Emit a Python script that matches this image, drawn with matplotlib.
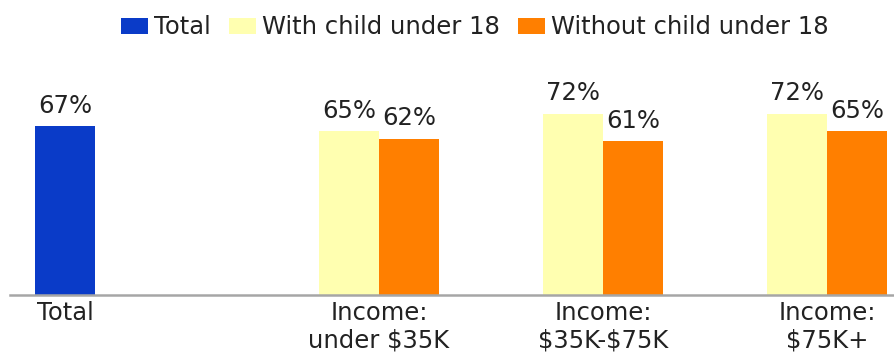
import matplotlib.pyplot as plt
import numpy as np

# data
groups = ['Income:\nunder \\$35K', 'Income:\n\\$35K-\\$75K', 'Income:\n\\$75K+']
total_value = [67]
with_child = [65, 72, 72]
without_child = [62, 61, 65]

plt.rcParams['font.family'] = ['DejaVu Sans Condensed', 'DejaVu Sans']

fig = plt.figure(figsize=(8.94, 3.6), dpi=100)
ax = fig.add_axes([10 / 894, 65 / 360, 884 / 894, 252 / 360])

w = 60 / 224  # bar width in category units
x = np.arange(1, len(groups) + 1)

b0 = ax.bar([0 - w], total_value, w, color='#0a3bc8', label='Total')
b1 = ax.bar(x, with_child, w, color='#ffffb0', label='With child under 18')
b2 = ax.bar(x + w, without_child, w, color='#ff7f00', label='Without child under 18')

# percent labels above bars
for bars in (b0, b1, b2):
    for bar in bars:
        h = bar.get_height()
        ax.annotate(f'{h:.0f}%', xy=(bar.get_x() + bar.get_width() / 2, h),
                    xytext=(0, 6), textcoords='offset points',
                    ha='center', va='bottom', fontsize=17.5, color='#222222')

ax.set_xlim(-0.513, 3.433)
ax.set_ylim(0, 100)

ticks = [0 - w] + list(x + w / 2)
ax.set_xticks(ticks)
ax.set_xticklabels(['Total'] + groups, fontsize=17.5, color='#222222')
ax.tick_params(axis='x', length=0, pad=4)
ax.set_yticks([])

for s in ('top', 'right', 'left'):
    ax.spines[s].set_visible(False)
ax.spines['bottom'].set_color('#a6a6a6')
ax.spines['bottom'].set_linewidth(1.8)

fig.legend(handles=[b0, b1, b2], loc='upper center', bbox_to_anchor=(0.531, 1.018),
           ncol=3, frameon=False, fontsize=17.5, handlelength=1.1, handleheight=0.6,
           handletextpad=0.25, columnspacing=0.75, labelcolor='#222222')

fig.savefig('out.png', dpi=100)
